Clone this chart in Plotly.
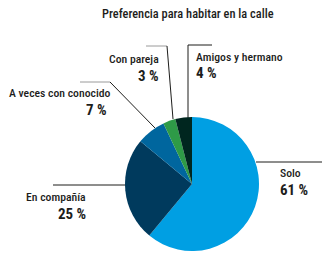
import plotly.graph_objects as go

W, H = 324, 259

categories = ["Solo", "En compañía", "A veces con conocido", "Con pareja", "Amigos y hermano"]
values = [61, 25, 7, 3, 4]
pct_labels = ["61 %", "25 %", "7 %", "3 %", "4 %"]
colors = ["#009FE3", "#003A5D", "#00669E", "#2E9A47", "#00261F"]
title = "Preferencia para habitar en la calle"

FONT = "Roboto Condensed, Liberation Sans Narrow, DejaVu Sans Condensed, Roboto, sans-serif"
TXT = "#1d1d1b"

def px(x):
    return x / W

def py(y):
    return 1 - y / H

fig = go.Figure(go.Pie(
    labels=categories,
    values=values,
    sort=False,
    direction="clockwise",
    rotation=0,
    marker=dict(colors=colors, line=dict(width=0)),
    textinfo="none",
    hoverinfo="label+percent",
    showlegend=False,
    domain=dict(x=[px(125), px(259)], y=[py(251), py(117)]),
))

# label layout: (name_x, name_y, pct_x, pct_y, anchor)
label_pos = [
    (278, 172.5, 278, 189.5, "left"),
    (88, 196.5, 88, 213.5, "right"),
    (112, 93, 109, 110, "right"),
    (161, 59.5, 161, 76.5, "right"),
    (194, 57, 194, 72.5, "left"),
]

annotations = [dict(
    text=title, x=px(187.5), y=py(13), xref="paper", yref="paper",
    xanchor="center", yanchor="middle", showarrow=False,
    font=dict(family=FONT, size=12.4, color=TXT, weight=500),
)]
for cat, pct, (nx, ny, pxx, pyy, anc) in zip(categories, pct_labels, label_pos):
    annotations.append(dict(
        text=cat, x=px(nx), y=py(ny), xref="paper", yref="paper",
        xanchor=anc, yanchor="middle", showarrow=False,
        font=dict(family=FONT, size=11.7, color=TXT, weight=500),
    ))
    annotations.append(dict(
        text="<b>" + pct + "</b>", x=px(pxx), y=py(pyy), xref="paper", yref="paper",
        xanchor=anc, yanchor="middle", showarrow=False,
        font=dict(family=FONT, size=15, color=TXT),
    ))

# leader lines (pixel coords)
leaders = [
    ((256, 162), (322, 162), "#1d1d1b"),
    ((53, 185), (126, 185), "#1d1d1b"),
    ((80, 82), (110, 82), "#9a9a9a"),
    ((110, 82), (155, 128), "#1d1d1b"),
    ((146, 46), (167, 46), "#9a9a9a"),
    ((167, 46), (173, 119), "#1d1d1b"),
    ((188, 45), (212, 45), "#1d1d1b"),
    ((188, 45), (188, 118), "#1d1d1b"),
]
shapes = []
for (x0, y0), (x1, y1), c in leaders:
    shapes.append(dict(
        type="line", xref="paper", yref="paper",
        x0=px(x0), y0=py(y0), x1=px(x1), y1=py(y1),
        line=dict(color=c, width=1), layer="below",
    ))

fig.update_layout(
    width=W, height=H,
    margin=dict(l=0, r=0, t=0, b=0),
    paper_bgcolor="white", plot_bgcolor="white",
    annotations=annotations, shapes=shapes,
)

fig.write_html("out.html", config={"displayModeBar": False},
               post_script="document.body.style.margin='0';")
